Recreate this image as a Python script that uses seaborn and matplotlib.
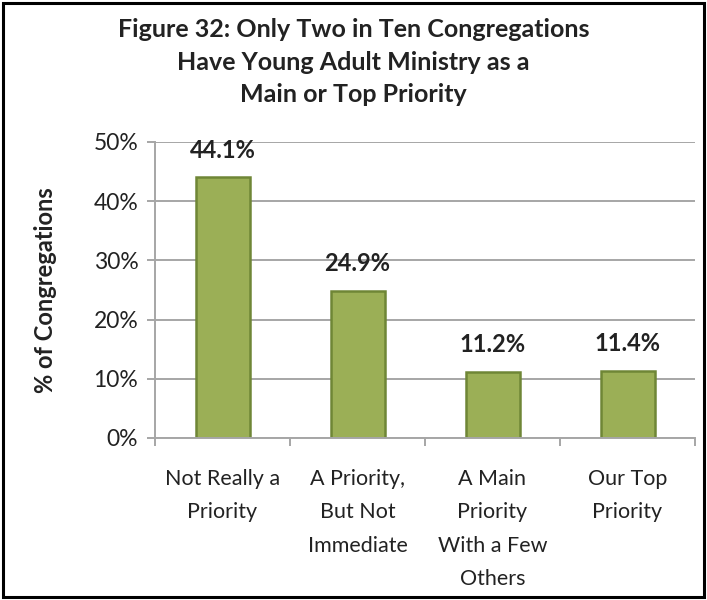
import matplotlib
matplotlib.use("Agg")
import matplotlib.pyplot as plt
import seaborn as sns
import pandas as pd
from matplotlib.patches import Rectangle
from matplotlib.ticker import FixedLocator, PercentFormatter

categories = ["Not Really a\nPriority", "A Priority,\nBut Not\nImmediate",
              "A Main\nPriority\nWith a Few\nOthers", "Our Top\nPriority"]
values = [44.1, 24.9, 11.2, 11.4]
value_labels = ["44.1%", "24.9%", "11.2%", "11.4%"]
title = "Figure 32: Only Two in Ten Congregations\nHave Young Adult Ministry as a\nMain or Top Priority"
ylabel = "% of Congregations"

sns.set_theme(style="white")
plt.rcParams['font.family'] = ['Lato', 'DejaVu Sans']

df = pd.DataFrame({"cat": categories, "val": values})

fig = plt.figure(figsize=(7.07, 6.0), dpi=100)
ax = fig.add_axes([155/707, 1-438/600, 540/707, (438-142)/600])

sns.barplot(data=df, x="cat", y="val", ax=ax, color="#9BAF56",
            edgecolor="#6F8636", linewidth=1.8, width=0.4, saturation=1)

ax.set_xlim(-0.5, 3.5)
ax.set_ylim(0, 50)
ax.set_yticks([0, 10, 20, 30, 40, 50])
ax.yaxis.set_major_formatter(PercentFormatter(decimals=0))
ax.grid(axis="y", color="#A6A6A6", linewidth=1.4)
ax.set_axisbelow(True)

for s in ["top", "right"]:
    ax.spines[s].set_visible(False)
for s in ["left", "bottom"]:
    ax.spines[s].set_color("#A6A6A6")
    ax.spines[s].set_linewidth(1.4)

ax.tick_params(axis="y", which="major", length=6, width=1.4, color="#A6A6A6",
               labelsize=16.5, labelcolor="#222222", pad=6, left=True)
ax.tick_params(axis="x", which="major", length=0, labelsize=15.5,
               labelcolor="#222222", pad=22)
ax.xaxis.set_minor_locator(FixedLocator([-0.5, 0.5, 1.5, 2.5, 3.5]))
ax.tick_params(axis="x", which="minor", length=6, width=1.4, color="#A6A6A6",
               bottom=True)
for lab in ax.get_xticklabels():
    lab.set_linespacing(1.85)
    lab.set_horizontalalignment("center")

ax.set_xlabel("")
ax.set_ylabel(ylabel, fontsize=17, fontweight="bold", color="#222222", labelpad=26)

for i, (v, t) in enumerate(zip(values, value_labels)):
    ax.annotate(t, (i, v), xytext=(0, 11), textcoords="offset points",
                ha="center", va="bottom", fontsize=17, fontweight="bold",
                color="#222222")

fig.text(0.5, 1-18/600, title, ha="center", va="top", fontsize=18,
         fontweight="bold", color="#222222", linespacing=1.5)

fig.patches.append(Rectangle((3/707, 3/600), 701/707, 594/600, fill=False,
                             edgecolor="black", linewidth=2.2,
                             transform=fig.transFigure, figure=fig))

fig.savefig("out.png", dpi=100)
